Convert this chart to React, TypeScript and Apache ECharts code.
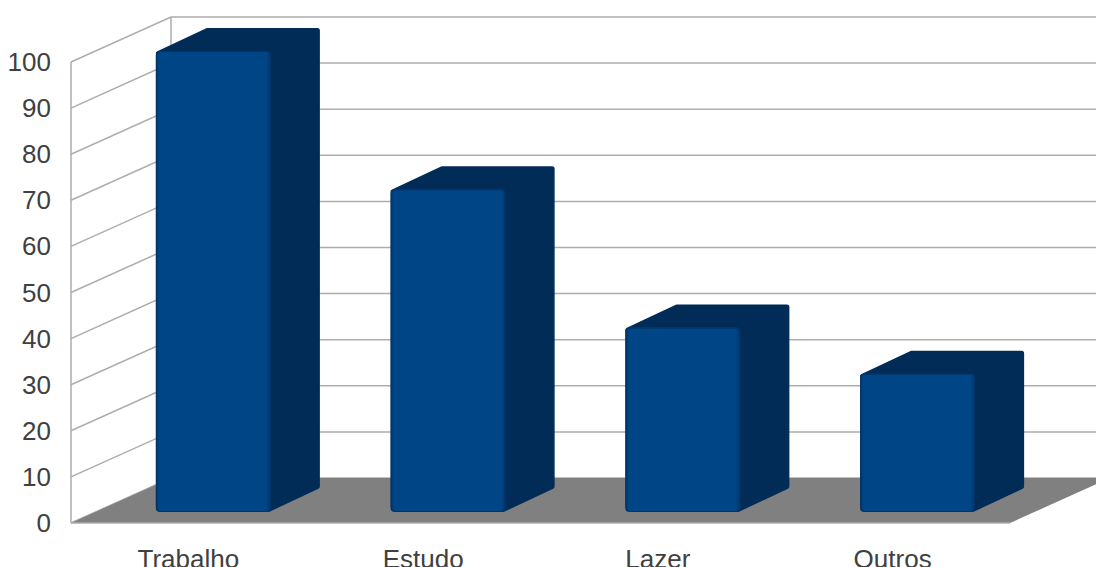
import React, { useEffect, useRef } from "react";
import * as echarts from "echarts";

const categories = ["Trabalho", "Estudo", "Lazer", "Outros"];
const barValues = [100, 70, 40, 30];
const gridTicks = [0, 10, 20, 30, 40, 50, 60, 70, 80, 90, 100];

const FRONT = "#004586";
const FRONT_EDGE = "#003468";
const SIDE = "#002c57";
const GRID = "#adadad";
const FLOOR = "#808080";
const TEXT = "#404040";
const WALL_DX = 100;
const WALL_DY = -45;
const BAR_OFFSET_X = 25;
const BAR_OFFSET_Y = -11;
const BAR_DX = 49;
const BAR_DY = -23;

export default function App() {
  const ref = useRef<HTMLDivElement>(null);
  useEffect(() => {
    document.body.style.margin = "0";
    const chart = echarts.init(ref.current!, null, { renderer: "svg" });
    const lineStyle = { stroke: GRID, lineWidth: 1.5, fill: "none" };
    chart.setOption({
      animation: false,
      backgroundColor: "#ffffff",
      grid: { left: 71, right: 86, top: 62, bottom: 44, outerBoundsMode: "none" },
      xAxis: {
        type: "category",
        data: categories,
        axisLine: { show: false },
        axisTick: { show: false },
        axisLabel: { margin: 23, fontSize: 26, color: TEXT, fontFamily: "Liberation Sans", interval: 0 },
      },
      yAxis: {
        type: "value",
        min: 0,
        max: 100,
        interval: 10,
        axisLine: { show: false },
        axisTick: { show: false },
        splitLine: { show: false },
        axisLabel: { margin: 20, fontSize: 26, color: TEXT, fontFamily: "Liberation Sans" },
      },
      series: [
        {
          type: "custom",
          silent: true,
          data: gridTicks.map((v) => [0, v]),
          encode: { x: 0, y: 1 },
          renderItem: (params: any, api: any) => {
            const v = api.value(1);
            const y = api.coord([0, v])[1];
            const cs = params.coordSys;
            const children: any[] = [
              {
                type: "polyline",
                shape: {
                  points: [
                    [cs.x, y],
                    [cs.x + WALL_DX, y + WALL_DY],
                    [cs.x + cs.width + WALL_DX, y + WALL_DY],
                  ],
                },
                style: lineStyle,
              },
            ];
            if (v === 0) {
              const top = api.coord([0, 100])[1];
              children.push(
                { type: "line", shape: { x1: cs.x, y1: top, x2: cs.x, y2: y }, style: lineStyle },
                { type: "line", shape: { x1: cs.x + WALL_DX, y1: top + WALL_DY, x2: cs.x + WALL_DX, y2: y + WALL_DY }, style: lineStyle },
              );
            }
            return { type: "group", children };
          },
        },
        {
          type: "custom",
          silent: true,
          data: [[0, 0]],
          encode: { x: 0, y: 1 },
          renderItem: (params: any, api: any) => {
            const y = api.coord([0, 0])[1];
            const cs = params.coordSys;
            return {
              type: "group",
              children: [
                {
                  type: "polygon",
                  shape: {
                    points: [
                      [cs.x, y],
                      [cs.x + cs.width, y],
                      [cs.x + cs.width + WALL_DX, y + WALL_DY],
                      [cs.x + WALL_DX, y + WALL_DY],
                    ],
                  },
                  style: { fill: FLOOR },
                },
                { type: "line", shape: { x1: cs.x, y1: y, x2: cs.x + cs.width, y2: y }, style: lineStyle },
              ],
            };
          },
        },
        {
          type: "custom",
          silent: true,
          data: barValues.map((v, i) => [i, v]),
          encode: { x: 0, y: 1 },
          renderItem: (_params: any, api: any) => {
            const [cx, yTop] = api.coord([api.value(0), api.value(1)]);
            const yBase = api.coord([api.value(0), 0])[1];
            const w = api.size([1, 0])[0] * 0.49;
            const x0 = cx + BAR_OFFSET_X - w / 2;
            const x1 = x0 + w;
            const t = yTop + BAR_OFFSET_Y;
            const b = yBase + BAR_OFFSET_Y;
            const inset = 2.5;
            return {
              type: "group",
              children: [
                {
                  type: "polygon",
                  shape: {
                    points: [
                      [x0 + inset, t + inset],
                      [x0 + BAR_DX + inset, t + BAR_DY + inset],
                      [x1 + BAR_DX - inset, t + BAR_DY + inset],
                      [x1 + BAR_DX - inset, b + BAR_DY - inset],
                      [x1 - inset, b - inset],
                    ],
                  },
                  style: { fill: SIDE, stroke: SIDE, lineWidth: 5, lineJoin: "round" },
                },
                {
                  type: "rect",
                  shape: { x: x0, y: t, width: w, height: b - t, r: 4 },
                  style: {
                    fill: new echarts.graphic.LinearGradient(0, 0, 1, 0, [
                      { offset: 0, color: FRONT_EDGE },
                      { offset: 0.03, color: FRONT },
                      { offset: 0.96, color: FRONT },
                      { offset: 1, color: FRONT_EDGE },
                    ]),
                  },
                },
                {
                  type: "rect",
                  shape: { x: x0 + 0.5, y: t + 0.5, width: w - 1, height: b - t - 1, r: 4 },
                  style: { fill: "none", stroke: FRONT_EDGE, lineWidth: 1 },
                },
              ],
            };
          },
        },
      ],
    });
    return () => chart.dispose();
  }, []);
  return <div ref={ref} style={{ position: "fixed", left: 0, top: 0, width: 1096, height: 567 }} />;
}
